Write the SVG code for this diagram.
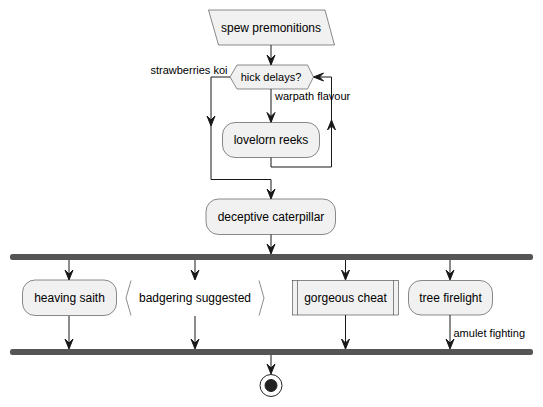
<svg xmlns="http://www.w3.org/2000/svg" width="543" height="407" viewBox="0 0 543 407">
<style>
.box{fill:#F1F1F1;stroke:#181818;stroke-width:0.5}
.ln{fill:none;stroke:#181818;stroke-width:1}
.ah{fill:#181818;stroke:#181818;stroke-width:1}
.bar{fill:#555555;stroke:none}
.t12{font-family:"Liberation Sans",Arial,sans-serif;font-size:12px;fill:#000}
.t11{font-family:"Liberation Sans",Arial,sans-serif;font-size:11px;fill:#000}
</style>
<defs>
<polygon id="ad" points="-4,-10 0,0 4,-10 0,-6"/>
</defs>
<rect width="543" height="407" fill="#FFFFFF"/>
<g id="connectors">
<line class="ln" x1="271" y1="45" x2="271" y2="64"/>
<use href="#ad" class="ah" transform="translate(271,65)"/>
<polyline class="ln" points="230,77 211,77 211,179.5 271,179.5 271,198"/>
<use href="#ad" class="ah" transform="translate(211,126)"/>
<use href="#ad" class="ah" transform="translate(271,199)"/>
<line class="ln" x1="271" y1="89" x2="271" y2="122"/>
<use href="#ad" class="ah" transform="translate(271,122.5)"/>
<polyline class="ln" points="271,157 271,167 331.5,167 331.5,77 314,77"/>
<use href="#ad" class="ah" transform="translate(331.5,120) rotate(180)"/>
<use href="#ad" class="ah" transform="translate(313.5,77) rotate(90)"/>
<line class="ln" x1="271" y1="234" x2="271" y2="253"/>
<use href="#ad" class="ah" transform="translate(271,254)"/>
<line class="ln" x1="69" y1="260" x2="69" y2="279"/>
<use href="#ad" class="ah" transform="translate(69,280)"/>
<line class="ln" x1="195" y1="260" x2="195" y2="279"/>
<use href="#ad" class="ah" transform="translate(195,280)"/>
<line class="ln" x1="345.5" y1="260" x2="345.5" y2="279"/>
<use href="#ad" class="ah" transform="translate(345.5,280)"/>
<line class="ln" x1="450" y1="260" x2="450" y2="279"/>
<use href="#ad" class="ah" transform="translate(450,280)"/>
<line class="ln" x1="69" y1="316" x2="69" y2="348"/>
<use href="#ad" class="ah" transform="translate(69,349)"/>
<line class="ln" x1="195" y1="316" x2="195" y2="348"/>
<use href="#ad" class="ah" transform="translate(195,349)"/>
<line class="ln" x1="345.5" y1="315" x2="345.5" y2="348"/>
<use href="#ad" class="ah" transform="translate(345.5,349)"/>
<line class="ln" x1="450" y1="315" x2="450" y2="348"/>
<use href="#ad" class="ah" transform="translate(450,349)"/>
<line class="ln" x1="271" y1="355" x2="271" y2="373"/>
<use href="#ad" class="ah" transform="translate(271,374)"/>
<text class="t11" x="227.5" y="74" text-anchor="end">strawberries koi</text>
<text class="t11" x="275" y="100">warpath flavour</text>
<text class="t11" x="453.5" y="337">amulet fighting</text>
</g>
<g id="spew">
<polygon class="box" points="208.5,10 325,10 334.5,45 218.5,45"/>
<text class="t12" x="271" y="32" text-anchor="middle">spew premonitions</text>
</g>
<g id="hick">
<polygon class="box" points="230,77 237,65 307.5,65 313.5,77 307.5,89 237,89"/>
<text class="t11" x="271" y="81" text-anchor="middle">hick delays?</text>
</g>
<g id="lovelorn">
<rect class="box" x="222.5" y="122.5" width="97" height="35" rx="12.5"/>
<text class="t12" x="271" y="144" text-anchor="middle">lovelorn reeks</text>
</g>
<g id="deceptive">
<rect class="box" x="206" y="199" width="129.5" height="35.5" rx="12.5"/>
<text class="t12" x="271" y="221" text-anchor="middle">deceptive caterpillar</text>
</g>
<g id="fork">
<rect class="bar" x="10" y="254" width="523" height="6" rx="2.5"/>
</g>
<g id="heaving">
<rect class="box" x="22.5" y="280" width="94" height="35.5" rx="12.5"/>
<text class="t12" x="69.5" y="302" text-anchor="middle">heaving saith</text>
</g>
<g id="badgering">
<polyline class="box" style="fill:none" points="131,280.5 126,298 131,315.5"/>
<polyline class="box" style="fill:none" points="259,280.5 264,298 259,315.5"/>
<text class="t12" x="195" y="302" text-anchor="middle">badgering suggested</text>
</g>
<g id="gorgeous">
<rect class="box" x="292.5" y="280.5" width="106" height="34.5"/>
<line class="box" x1="297.5" y1="280.5" x2="297.5" y2="315"/>
<line class="box" x1="393.5" y1="280.5" x2="393.5" y2="315"/>
<text class="t12" x="345.5" y="302" text-anchor="middle">gorgeous cheat</text>
</g>
<g id="tree">
<rect class="box" x="408.5" y="280.5" width="84" height="34.5" rx="12.5"/>
<text class="t12" x="450.5" y="302" text-anchor="middle">tree firelight</text>
</g>
<g id="join">
<rect class="bar" x="10" y="349" width="523" height="6" rx="2.5"/>
</g>
<g id="stop">
<circle cx="271" cy="385.5" r="11" fill="none" stroke="#222222" stroke-width="1"/>
<circle cx="271" cy="385.5" r="6" fill="#222222" stroke="#222222" stroke-width="1"/>
</g>
</svg>
